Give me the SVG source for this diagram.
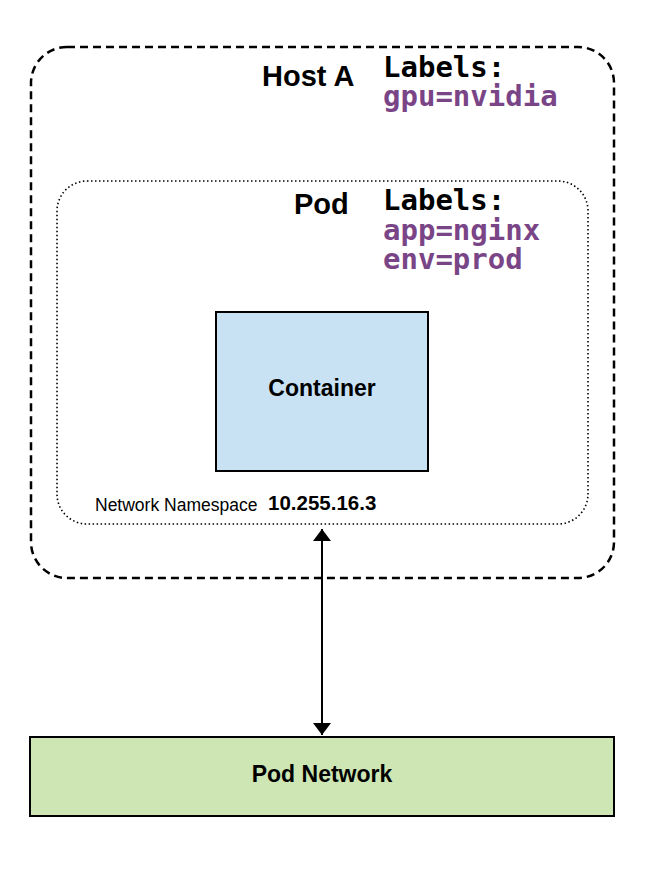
<svg xmlns="http://www.w3.org/2000/svg" width="668" height="889" viewBox="0 0 668 889">
<style>
.t{font-family:"Liberation Sans",Arial,sans-serif;font-weight:bold;fill:#000}
.m{font-family:"DejaVu Sans Mono","Liberation Mono",monospace;font-weight:bold;font-size:29px}
.k{fill:#000}
.p{fill:#7a4587}
</style>
<defs>
<marker id="ah" viewBox="0 0 12 18" refX="12" refY="9" markerWidth="12" markerHeight="18" markerUnits="userSpaceOnUse" orient="auto-start-reverse">
<path d="M0,0 L12,9 L0,18 Z" fill="#000"/>
</marker>
</defs>
<rect width="668" height="889" fill="#fff"/>
<g id="host">
<rect x="31" y="47" width="583" height="531" rx="36" fill="none" stroke="#000" stroke-width="2.5" stroke-dasharray="8 5"/>
<text class="t" x="262" y="86" font-size="29">Host A</text>
<text class="m k" x="383" y="77">Labels:</text>
<text class="m p" x="383" y="106">gpu=nvidia</text>
</g>
<g id="pod">
<rect x="57" y="181" width="531" height="343" rx="30" fill="none" stroke="#000" stroke-width="1.6" stroke-dasharray="1.5 2.5"/>
<text class="t" x="294" y="214" font-size="29">Pod</text>
<text class="m k" x="383" y="210">Labels:</text>
<text class="m p" x="383" y="240">app=nginx</text>
<text class="m p" x="383" y="269">env=prod</text>
<text x="95" y="511" font-family="Liberation Sans,Arial,sans-serif" font-size="17.5">Network Namespace</text>
<text class="t" x="268" y="510" font-size="20.5">10.255.16.3</text>
</g>
<g id="container">
<rect x="216" y="312" width="212" height="159" fill="#c8e2f4" stroke="#000" stroke-width="2"/>
<text class="t" x="322" y="396" font-size="23" text-anchor="middle">Container</text>
</g>
<g id="podnetwork">
<rect x="30" y="737" width="584" height="79" fill="#cde6b3" stroke="#000" stroke-width="2"/>
<text class="t" x="322" y="782" font-size="23" text-anchor="middle">Pod Network</text>
</g>
<g id="connectors">
<line x1="322" y1="529" x2="322" y2="735" stroke="#000" stroke-width="2" marker-start="url(#ah)" marker-end="url(#ah)"/>
</g>
</svg>
